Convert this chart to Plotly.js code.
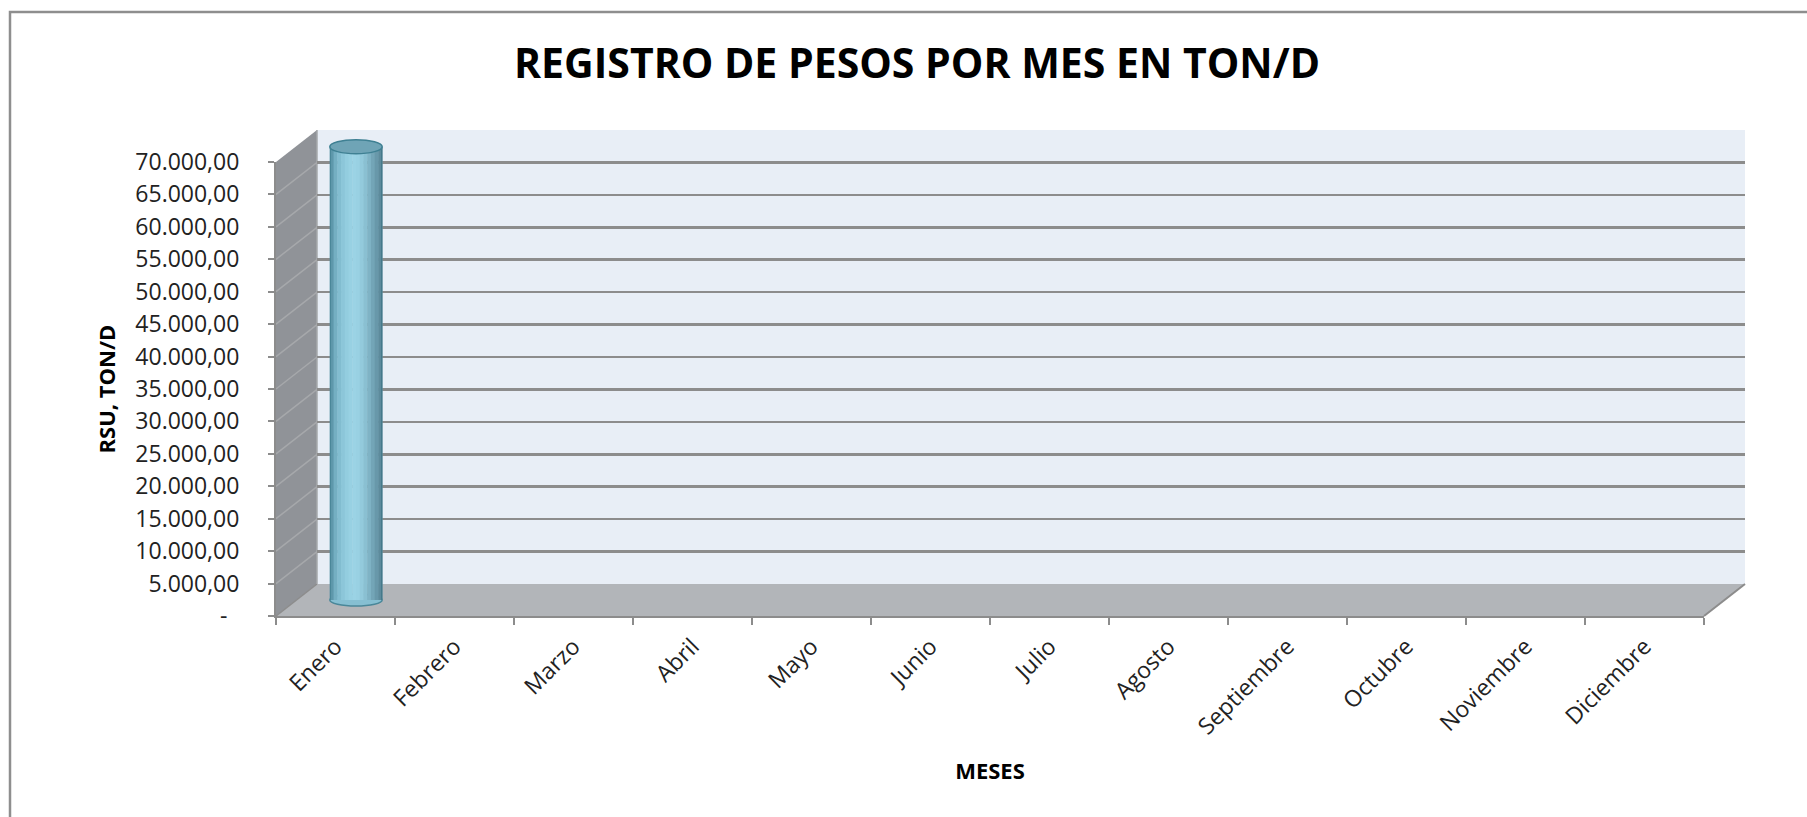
<!DOCTYPE html>
<html><head><meta charset="utf-8">
<script src="https://cdn.plot.ly/plotly-3.0.1.min.js"></script>
<style>html,body{margin:0;padding:0;background:#fff;} #chart{width:1807px;height:817px;}</style>
</head><body><div id="chart"></div>
<script>
// ---------------- data ----------------
const months = ['Enero','Febrero','Marzo','Abril','Mayo','Junio','Julio','Agosto','Septiembre','Octubre','Noviembre','Diciembre'];
const rsuTonD = [69900, null, null, null, null, null, null, null, null, null, null, null];
const yTickValues = [0,5000,10000,15000,20000,25000,30000,35000,40000,45000,50000,55000,60000,65000,70000];
const yTickLabels = ['-\u00a0\u00a0','5.000,00','10.000,00','15.000,00','20.000,00','25.000,00','30.000,00','35.000,00','40.000,00','45.000,00','50.000,00','55.000,00','60.000,00','65.000,00','70.000,00'];
const chartTitle = 'REGISTRO DE PESOS POR MES EN TON/D';
const xTitle = 'MESES';
const yTitle = 'RSU, TON/D';

// ---------------- geometry & style ----------------
const FW = 1807, FH = 817, L = 276, R = 62, T = 130, B = 201;
const W = FW - L - R, H = FH - T - B;
const DX = 41, DY = 32;
const HF = H - DY; // front value-axis length in px
const px = v => (v - L) / W;
const py = v => (FH - B - v) / H;
const FONT = 'Open Sans, Noto Sans, sans-serif';
const GRID = '#8C8C8C';
const yMax = yTickValues[yTickValues.length - 1];
const xRange = [-0.5, months.length - 0.5];
// middle-depth axis covers the full plot height (avoids clipping of the caps)
const y2Range = [-(DY / 2) / HF * yMax, (H - DY / 2) / HF * yMax];

const stripeColors = ['#5E98AB','#74AFC2','#82BDD0','#8CC6D9','#93CDDF','#98D1E3','#9BD3E5','#99D1E3','#93CADC','#8AC0D2','#7FB3C5','#73A5B7','#6898AA','#5D8B9C'];
const BW = 0.44;

const traces = [];
traces.push({type:'scatter', x: months, y: rsuTonD, xaxis:'x', yaxis:'y', mode:'markers', marker:{opacity:0}, hoverinfo:'skip', showlegend:false});
const N = stripeColors.length;
stripeColors.forEach((c, k) => {
  traces.push({type:'bar', x: months, y: rsuTonD, xaxis:'x2', yaxis:'y2',
    width: BW / N + 0.004, offset: -BW / 2 + k * BW / N,
    marker:{color:c, line:{width:0}}, hoverinfo:'skip', showlegend:false});
});
[[-BW/2, '#4A8799'], [BW/2 - 0.01, '#44798A']].forEach(([off, c]) => {
  traces.push({type:'bar', x: months, y: rsuTonD, xaxis:'x2', yaxis:'y2',
    width: 0.01, offset: off, marker:{color:c, line:{width:0}}, hoverinfo:'skip', showlegend:false});
});
traces.push({type:'scatter', x: months, y: rsuTonD, xaxis:'x3', yaxis:'y3', mode:'markers', marker:{opacity:0}, hoverinfo:'skip', showlegend:false});

// ---------------- decorative 3D frame ----------------
const shapes = [];
const pth = pts => 'M ' + pts.map(p => px(p[0]) + ' ' + py(p[1])).join(' L ') + ' Z';
const xFrontR = FW - R - DX, yFrontB = FH - B, yBackB = FH - B - DY;
// back wall
shapes.push({type:'rect', xref:'paper', yref:'paper', x0: px(L + DX), x1: px(FW - R), y0: py(T), y1: py(yBackB), fillcolor:'#E8EEF6', line:{width:0}, layer:'below'});
// left wall
shapes.push({type:'path', xref:'paper', yref:'paper', path: pth([[L, T + DY],[L + DX, T],[L + DX, yBackB],[L, yFrontB]]), fillcolor:'#909398', line:{width:0}, layer:'below'});
// floor
shapes.push({type:'path', xref:'paper', yref:'paper', path: pth([[L, yFrontB],[xFrontR, yFrontB],[FW - R, yBackB],[L + DX, yBackB]]), fillcolor:'#B2B5B9', line:{width:0}, layer:'below'});
// left wall diagonal grid
yTickValues.forEach(v => {
  shapes.push({type:'line', xref:'paper', yref:'y3', xsizemode:'pixel', ysizemode:'pixel', xanchor: 0, yanchor: v,
    x0: 0, x1: DX, y0: 0, y1: DY, line:{color: v === 0 ? GRID : '#A6A8AB', width: 1.5}, layer:'below'});
});
shapes.push({type:'line', xref:'paper', yref:'paper', x0: px(L + DX), x1: px(L + DX), y0: py(T), y1: py(yBackB), line:{color:'#A6A8AB', width:1.5}, layer:'below'});
shapes.push({type:'line', xref:'paper', yref:'paper', x0: px(xFrontR), x1: px(FW - R), y0: py(yFrontB), y1: py(yBackB), line:{color: GRID, width: 2}, layer:'below'});
// chart border (left & top)
shapes.push({type:'path', xref:'paper', yref:'paper', path: 'M ' + px(10) + ' ' + py(FH + 5) + ' L ' + px(10) + ' ' + py(12) + ' L ' + px(FW + 5) + ' ' + py(12), line:{color:'#8E8E8E', width:2.5}, layer:'below'});

// cylinder caps
rsuTonD.forEach((v, i) => {
  if (v === null) return;
  shapes.push({type:'circle', xref:'x2', yref:'y2', x0: i - BW/2, x1: i + BW/2, ysizemode:'pixel', yanchor: 0, y0: -6, y1: 6,
    fillcolor:'#86BFD2', line:{color:'#4A8799', width:1.5}, layer:'below'});
  shapes.push({type:'circle', xref:'x2', yref:'y2', x0: i - BW/2, x1: i + BW/2, ysizemode:'pixel', yanchor: v, y0: -7, y1: 7,
    fillcolor:'#6FA4B6', line:{color:'#3F8093', width:1.5}, layer:'above'});
});

const hidden = {visible:false, showgrid:false, zeroline:false, fixedrange:true};
const layout = {
  width: FW, height: FH,
  margin: {l: L, r: R, t: T, b: B, pad: 0},
  paper_bgcolor: '#ffffff', plot_bgcolor: 'rgba(0,0,0,0)',
  barmode: 'overlay', showlegend: false, hovermode: false,
  font: {family: FONT, color: '#222'},
  title: {text: chartTitle, font: {family: FONT, size: 41, weight: 700, color: '#000'},
          xref: 'container', x: 917 / FW, xanchor: 'center', yref: 'container', y: 1 - 64 / FH, yanchor: 'middle'},
  xaxis: Object.assign({}, hidden, {type:'category', categoryarray: months, range: xRange, domain: [DX / W, 1], anchor:'y'}),
  yaxis: {range: [0, yMax], domain: [DY / H, 1], anchor:'x', showgrid: true, gridcolor: GRID, gridwidth: 2.5,
          tickmode:'array', tickvals: yTickValues, showticklabels: false, ticks:'', zeroline: false, showline: false, fixedrange: true},
  xaxis2: Object.assign({}, hidden, {type:'category', categoryarray: months, range: xRange, domain: [DX / 2 / W, 1 - DX / 2 / W], anchor:'y2'}),
  yaxis2: Object.assign({}, hidden, {range: y2Range, domain: [0, 1], anchor:'x2'}),
  xaxis3: {type:'category', categoryarray: months, range: xRange, domain: [0, 1 - DX / W], anchor:'y3',
           showgrid: false, zeroline: false, showline: true, linecolor: GRID, linewidth: 2,
           ticks:'outside', ticklen: 7, tickwidth: 2, tickcolor: GRID, tickson:'boundaries',
           tickangle: -45, tickfont: {family: FONT, size: 23, color: '#222'}, ticklabelstandoff: 6,
           title: {text: xTitle, font: {family: FONT, size: 22, weight: 700, color: '#000'}, standoff: 24}, fixedrange: true},
  yaxis3: {range: [0, yMax], domain: [0, 1 - DY / H], anchor:'x3', showgrid: false, zeroline: false,
           showline: true, linecolor: GRID, linewidth: 2, ticks:'outside', ticklen: 6, tickwidth: 2, tickcolor: GRID,
           tickmode:'array', tickvals: yTickValues, ticktext: yTickLabels,
           tickfont: {family: FONT, size: 23, color: '#222'}, ticklabelstandoff: 24,
           title: {text: yTitle, font: {family: FONT, size: 22, weight: 700, color: '#000'}, standoff: 14}, fixedrange: true},
  shapes: shapes
};

Plotly.newPlot('chart', traces, layout, {displayModeBar: false, staticPlot: true});
</script>
</body></html>
